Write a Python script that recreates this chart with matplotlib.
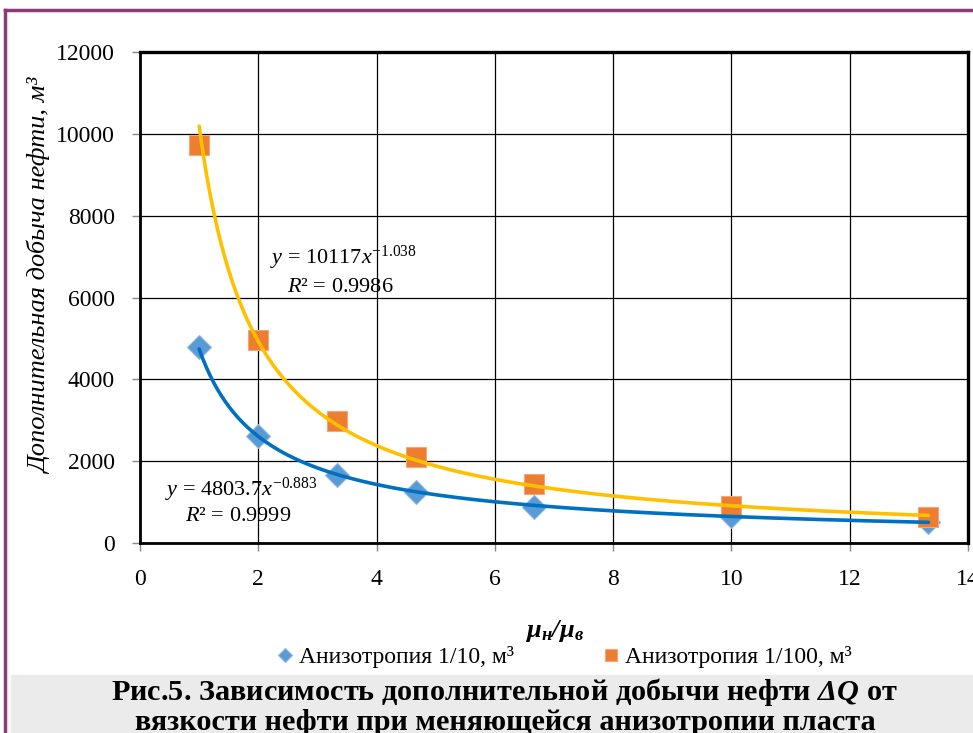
import numpy as np
import matplotlib.pyplot as plt
from matplotlib.lines import Line2D
from matplotlib.patches import Rectangle

# data
visc_ratio = [1, 2, 3.33, 4.67, 6.67, 10, 13.33]
aniso_10 = [4800, 2615, 1660, 1250, 880, 660, 515]
aniso_100 = [9730, 4960, 2980, 2100, 1440, 905, 635]
labels = ['Анизотропия 1/10, м³', 'Анизотропия 1/100, м³']
x_ticks = [0, 2, 4, 6, 8, 10, 12, 14]
y_ticks = [0, 2000, 4000, 6000, 8000, 10000, 12000]

plt.rcParams['font.family'] = ['Liberation Serif', 'DejaVu Serif']
plt.rcParams['mathtext.fontset'] = 'custom'
plt.rcParams['mathtext.rm'] = 'Liberation Serif'
plt.rcParams['mathtext.it'] = 'Liberation Serif:italic'
plt.rcParams['mathtext.bf'] = 'Liberation Serif:bold'
plt.rcParams['mathtext.bfit'] = 'Liberation Serif:italic:bold'

fig = plt.figure(figsize=(9.73, 7.33), dpi=100)
ax = fig.add_axes([140 / 973, 1 - 543 / 733, 828 / 973, 491 / 733])

x = np.array(visc_ratio)


def power_fit(y):
    b, ln_a = np.polyfit(np.log(x), np.log(y), 1)
    return np.exp(ln_a), b


xs = np.linspace(x.min(), x.max(), 200)

ax.plot(x, aniso_10, 'D', color='#5B9BD5', markersize=12, mec='#8DB9E3',
        mew=0.8, zorder=3, label=labels[0])
ax.plot(x, aniso_100, 's', color='#ED7D31', markersize=14, mec='#F4A679',
        mew=0.8, zorder=4, label=labels[1])

a1, b1 = power_fit(aniso_10)
a2, b2 = power_fit(aniso_100)
ax.plot(xs, a1 * xs ** b1, color='#0070C0', lw=2.6, zorder=5,
        solid_capstyle='round')
ax.plot(xs, a2 * xs ** b2, color='#FFC000', lw=2.6, zorder=6,
        solid_capstyle='round')

ax.set_xlim(0, 14)
ax.set_ylim(0, 12000)
ax.set_xticks(x_ticks)
ax.set_yticks(y_ticks)
ax.grid(True, color='black', lw=0.9)
ax.set_axisbelow(True)
for s in ['top', 'right']:
    ax.spines[s].set_linewidth(2.4)
for s in ['left', 'bottom']:
    ax.spines[s].set_linewidth(2.0)
ax.tick_params(labelsize=17, color='#888888', length=6, width=1)
ax.tick_params(axis='x', pad=13)
ax.tick_params(axis='y', pad=12)
for lbl in ax.get_xticklabels() + ax.get_yticklabels():
    lbl.set_clip_on(False)

ax.set_ylabel('Дополнительная добыча нефти, м³', fontsize=19,
              fontstyle='italic')
ax.yaxis.set_label_coords(-0.106, 0.544)
ax.set_xlabel(r'$\mathbfit{μ_{н}/μ_{в}}$', fontsize=19, labelpad=20)

ax.text(2.2, 6965, r'$y$ = 10117$x^{-1.038}$', fontsize=16, ha='left',
        va='center', zorder=7)
ax.text(2.49, 6256, r'$R$² = 0.9986', fontsize=16, ha='left', va='center',
        zorder=7)
ax.text(0.42, 1300, r'$y$ = 4803.7$x^{-0.883}$', fontsize=16, ha='left',
        va='center', zorder=7)
ax.text(0.76, 640, r'$R$² = 0.9999', fontsize=16, ha='left', va='center',
        zorder=7)

ax.legend(loc='center', bbox_to_anchor=(0.51, -0.232), ncol=2, frameon=False,
          fontsize=17, handletextpad=0.1, columnspacing=3.6, markerscale=0.6,
          handlelength=1.0)

# page decoration: purple border and grey caption box
fig.add_artist(Line2D([5 / 973, 5 / 973], [0, 1 - 10 / 733],
                      color='#8B3A7B', lw=2.5))
fig.add_artist(Line2D([5 / 973, 1], [1 - 10 / 733, 1 - 10 / 733],
                      color='#8B3A7B', lw=2.5))
fig.add_artist(Rectangle((11 / 973, 0), 1, 58 / 733, color='#EBEBEB',
                         transform=fig.transFigure, zorder=0))
fig.text(504 / 973, 1 - 692 / 733,
         r'Рис.5. Зависимость дополнительной добычи нефти $\mathbfit{ΔQ}$ от',
         fontsize=21.8, fontweight='bold', ha='center', va='center')
fig.text(505 / 973, 1 - 723 / 733,
         'вязкости нефти при меняющейся анизотропии пласта',
         fontsize=21.8, fontweight='bold', ha='center', va='center')

fig.savefig('out.png', dpi=100)
